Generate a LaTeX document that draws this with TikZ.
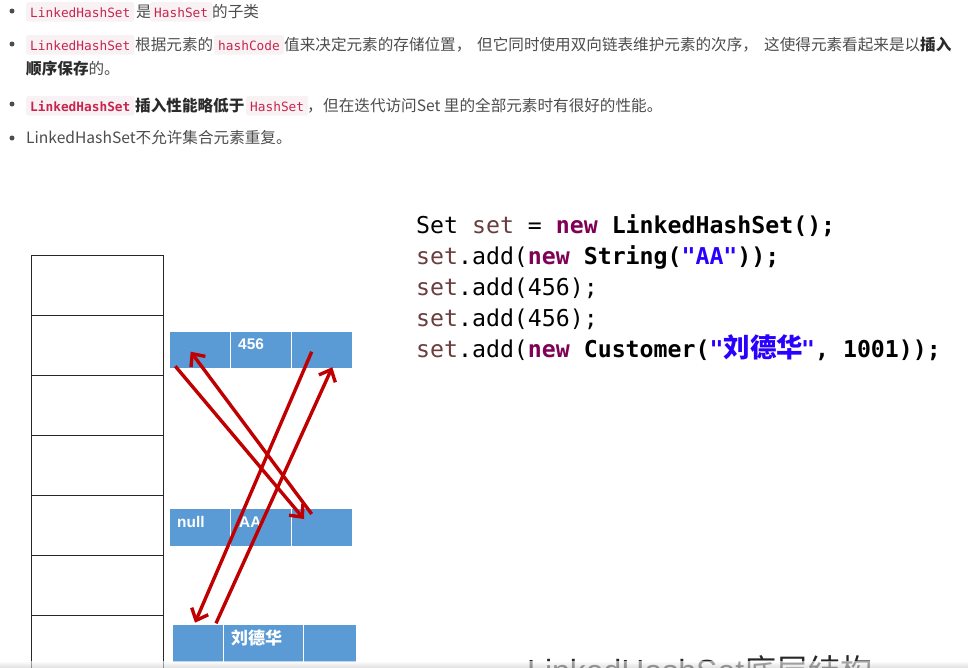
\documentclass[tikz,border=0pt]{standalone}
\usepackage{fontspec}
\setmainfont{Noto Sans CJK SC}
\setmonofont{DejaVu Sans Mono}
\newfontfamily\cjk{Noto Sans CJK SC}
\newfontfamily\arialf{Liberation Sans}
\usetikzlibrary{arrows.meta}
\definecolor{codered}{HTML}{C7254E}
\definecolor{codebg}{HTML}{F9F2F4}
\definecolor{bodytxt}{HTML}{4D4D4D}
\definecolor{boldtxt}{HTML}{2B2B2B}
\definecolor{cellblue}{HTML}{5B9BD5}
\definecolor{arrred}{HTML}{C00000}
\definecolor{varbrown}{HTML}{6A3E3E}
\definecolor{kwpurple}{HTML}{7F0055}
\definecolor{strblue}{HTML}{2A00FF}
\tikzset{
  body/.style={anchor=base west, inner sep=0pt, text=bodytxt, font=\fontsize{15.6}{18}\selectfont},
  codebox/.style={anchor=base west, fill=codebg, rounded corners=2pt, inner xsep=4pt, inner ysep=0pt,
    text height=15pt, text depth=4.5pt, text=codered, font=\ttfamily\fontsize{12.8}{15}\selectfont},
  bulletdot/.style={circle, fill=bodytxt, inner sep=0pt, minimum size=5pt},
  codeline/.style={anchor=base west, inner sep=0pt, font=\ttfamily\fontsize{23.2}{28}\selectfont},
  tcell/.style={draw=black!85, line width=1.3pt, minimum width=132pt, minimum height=60pt, anchor=north west, inner sep=0pt},
  bcell/.style={fill=cellblue, draw=white, line width=1.2pt, anchor=north west, inner sep=0pt},
  celltxt/.style={anchor=west, inner sep=0pt, text=white, font=\arialf\bfseries\fontsize{15.4}{18}\selectfont},
  arr/.style={draw=arrred, line width=3.4pt, -{Straight Barb[length=10pt,width=18pt]}},
}
\begin{document}
\begin{tikzpicture}[x=1pt,y=-1pt]
\useasboundingbox (0,0) rectangle (968,667);
\clip (0,0) rectangle (968,667);
\fill[white] (0,0) rectangle (968,667);

% ---- bullet list ----
\node[bulletdot] (d1) at (12,11) {};
\node[codebox] (c11) at (26,17) {LinkedHashSet};
\node[body] (t11) at (136,17) {是};
\node[codebox] (c12) at (150,17) {HashSet};
\node[body] (t12) at (212,17) {的子类};

\node[bulletdot] (d2) at (12,44) {};
\node[codebox] (c21) at (26,50) {LinkedHashSet};
\node[body] (t21) at (135,50) {根据元素的};
\node[codebox] (c22) at (214,50) {hashCode};
\node[body] (t22) at (284,50) {值来决定元素的存储位置，};
\node[body] (t23) at (477,50) {但它同时使用双向链表维护元素的次序，};
\node[body] (t24) at (764,50) {这使得元素看起来是以\textcolor{boldtxt}{\bfseries 插入}};
\node[body] (t25) at (26,74) {\textcolor{boldtxt}{\bfseries 顺序保存}的。};

\node[bulletdot] (d3) at (12,104) {};
\node[codebox, font=\ttfamily\bfseries\fontsize{12.8}{15}\selectfont] (c31) at (26,111) {LinkedHashSet};
\node[body, text=boldtxt, font=\bfseries\fontsize{15.6}{18}\selectfont] (t31) at (135,111) {插入性能略低于};
\node[codebox] (c32) at (246,111) {HashSet};
\node[body] (t32) at (307,111) {，};
\node[body] (t33) at (323,111) {但在迭代访问Set 里的全部元素时有很好的性能。};

\node[bulletdot] (d4) at (12,138) {};
\node[body] (t41) at (26,143) {LinkedHashSet不允许集合元素重复。};

% ---- code ----
\node[codeline] (l1) at (416,233) {Set \textcolor{varbrown}{set} = \textcolor{kwpurple}{\bfseries new}\bfseries{} LinkedHashSet();};
\node[codeline] (l2) at (416,264) {\textcolor{varbrown}{set}.add(\textcolor{kwpurple}{\bfseries new}\bfseries{} String(\textcolor{strblue}{"AA"}));};
\node[codeline] (l3) at (416,295) {\textcolor{varbrown}{set}.add(456);};
\node[codeline] (l4) at (416,326) {\textcolor{varbrown}{set}.add(456);};
\node[codeline] (l5) at (416,357) {\textcolor{varbrown}{set}.add(\textcolor{kwpurple}{\bfseries new}\bfseries{} Customer(\textcolor{strblue}{"}};
\node[anchor=base west, inner sep=0pt, text=strblue, font=\cjk\bfseries\fontsize{26.5}{30}\selectfont] (l5c) at (723.5,357) {刘德华};
\node[codeline, anchor=base east] (l5e) at (941,357) {\bfseries\textcolor{strblue}{"}, 1001));};

% ---- hash table ----
\foreach \i in {1,...,7} {
  \node[tcell] (h\i) at (31,{255+60*(\i-1)}) {};
}

% ---- entries ----
\node[bcell, minimum width=61pt, minimum height=37pt] (a1) at (169,331) {};
\node[bcell, minimum width=61pt, minimum height=37pt] (a2) at (230,331) {};
\node[bcell, minimum width=61pt, minimum height=37pt] (a3) at (291,331) {};
\node[bcell, minimum width=61pt, minimum height=38pt] (b1) at (169,508) {};
\node[bcell, minimum width=61pt, minimum height=38pt] (b2) at (230,508) {};
\node[bcell, minimum width=61pt, minimum height=38pt] (b3) at (291,508) {};
\node[bcell, minimum width=51pt, minimum height=38pt] (e1) at (172,624) {};
\node[bcell, minimum width=80pt, minimum height=38pt] (e2) at (223,624) {};
\node[bcell, minimum width=53pt, minimum height=38pt] (e3) at (303,624) {};

\node[celltxt] (v456) at (238,344) {456};
\node[celltxt] (vnull) at (177,522) {null};
\node[celltxt] (vaa) at (239,522) {AA};
\node[celltxt, font=\cjk\bfseries\fontsize{17}{20}\selectfont] (vldh) at (231,638) {刘德华};

% ---- links ----
\draw[arr] ([xshift=6.3pt,yshift=3pt]a1.south west) -- ([xshift=13pt,yshift=-11pt]b3.north west);
\draw[arr] ([xshift=20.7pt,yshift=-6pt]b3.north west) -- ([xshift=21.7pt,yshift=-20.7pt]a1.north west);
\draw[arr] ([xshift=20.7pt,yshift=-20.7pt]a3.north west) -- ([xshift=23pt,yshift=1.3pt]e1.north west);
\draw[arr] ([xshift=44pt,yshift=0.7pt]e1.north west) -- ([xshift=41.3pt,yshift=2pt]a3.south west);

% ---- caption (cut off) ----
\node[anchor=base west, inner sep=0pt, text=black!85, font=\fontsize{32}{36}\selectfont] (cap) at (527,682) {{\arialf LinkedHashSet}{\cjk 底层结构}};

\shade[top color=white, bottom color=black!18, opacity=0.6] (0,661) rectangle (968,667);
\end{tikzpicture}
\end{document}
